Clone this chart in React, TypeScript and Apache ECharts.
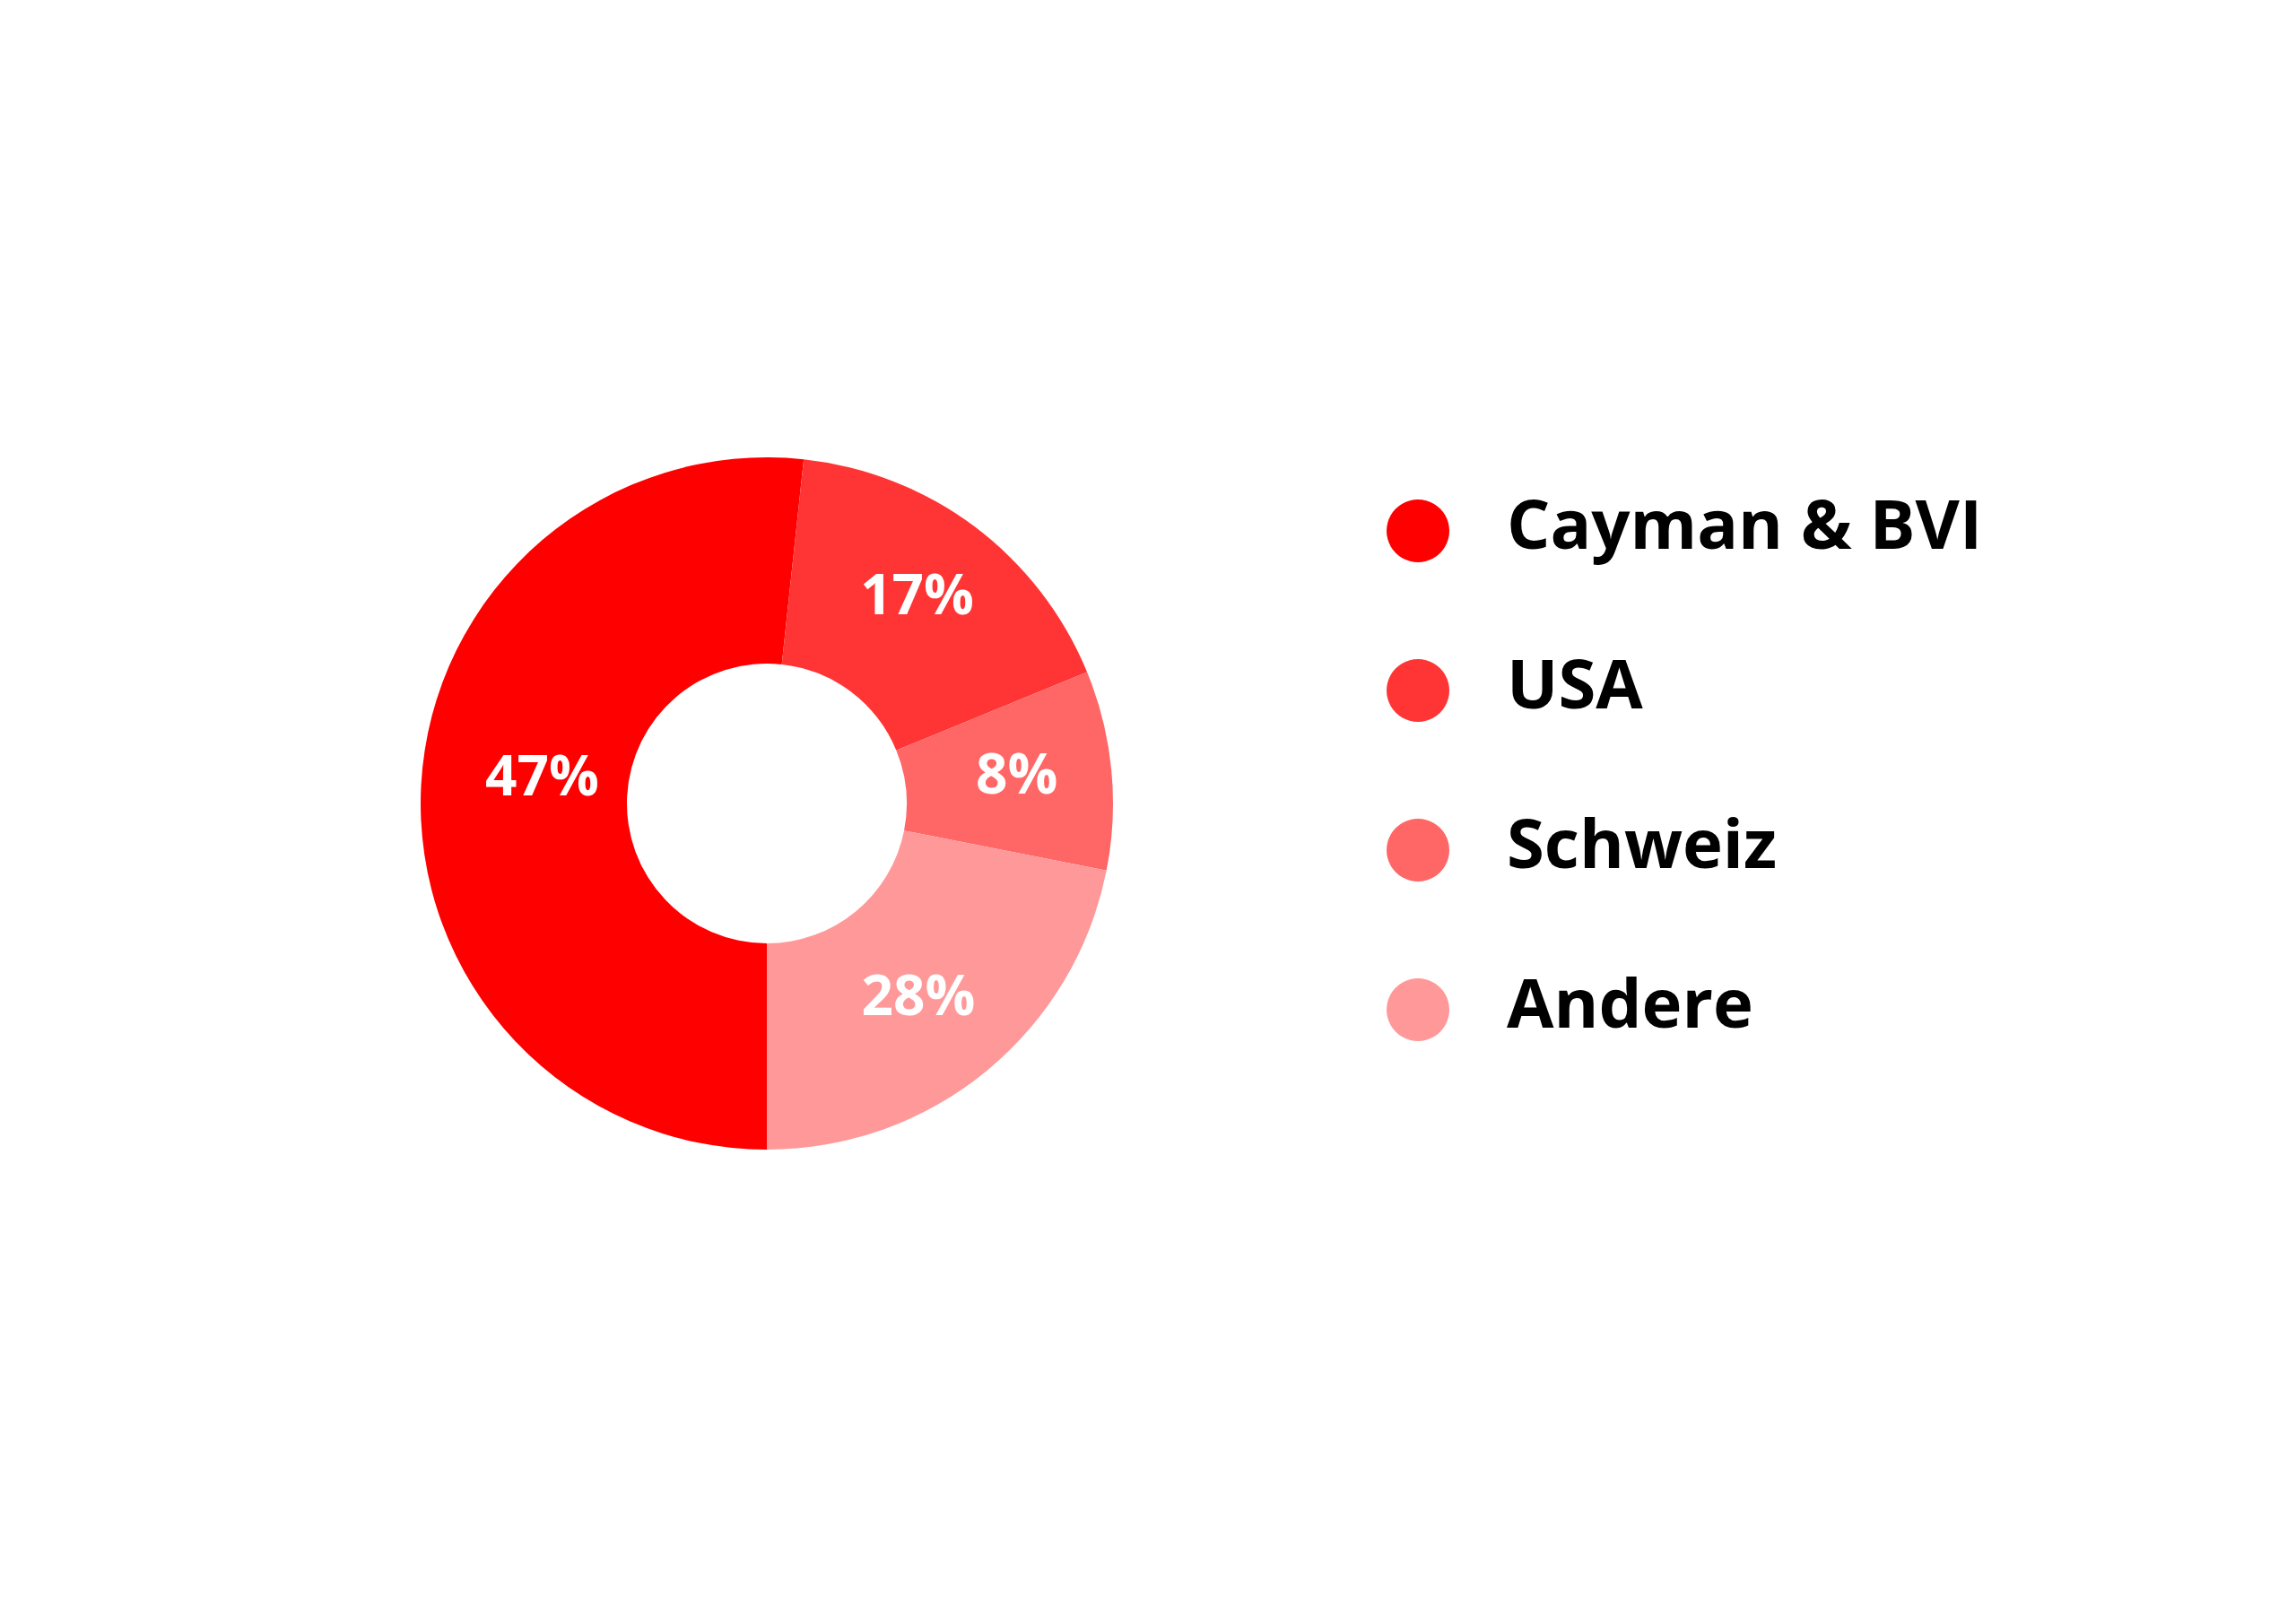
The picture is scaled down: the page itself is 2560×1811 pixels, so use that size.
import React, { useEffect, useRef } from "react";
import * as echarts from "echarts";

// Regions shown in the chart (legend order)
const regions: string[] = ["Cayman & BVI", "USA", "Schweiz", "Andere"];
// Arc sizes as drawn in the picture (shares)
const sliceShares: number[] = [51.7, 17.1, 9.3, 21.9];
// Percentage labels printed on the slices
const sliceLabels: string[] = ["47%", "17%", "8%", "28%"];
const sliceColors: string[] = ["#FF0000", "#FF3535", "#FF6666", "#FF9999"];

export default function App() {
  const ref = useRef<HTMLDivElement>(null);

  useEffect(() => {
    if (!ref.current) return;
    const chart = echarts.init(ref.current, undefined, { renderer: "svg" });
    const font = "'Open Sans', 'Noto Sans', sans-serif";
    // small per-slice nudges of the label text
    const labelNudges: number[][] = [
      [23, -18],
      [3, -16],
      [6, -8],
      [-5, 0],
    ];
    chart.setOption({
      animation: false,
      backgroundColor: "#ffffff",
      color: sliceColors,
      legend: {
        orient: "vertical",
        left: 1541,
        top: 539,
        icon: "circle",
        itemWidth: 70,
        itemHeight: 70,
        itemGap: 95,
        selectedMode: false,
        data: regions,
        formatter: "{t|{name}}",
        textStyle: {
          fontFamily: font,
          fontWeight: "bold",
          fontSize: 76,
          color: "#000000",
          rich: {
            t: {
              fontFamily: font,
              fontWeight: "bold",
              fontSize: 76,
              color: "#000000",
              padding: [0, 0, 20, 59],
            },
          },
        },
      },
      series: [
        {
          type: "pie",
          center: [855, 896],
          radius: [156, 386],
          startAngle: 270,
          clockwise: true,
          avoidLabelOverlap: false,
          itemStyle: { borderWidth: 0 },
          emphasis: { disabled: true },
          label: {
            show: true,
            position: "inside",
            color: "#ffffff",
            fontFamily: font,
            fontWeight: "bold",
            fontSize: 62,
            formatter: (p: any) => sliceLabels[p.dataIndex],
          },
          labelLine: { show: false },
          data: regions.map((name, i) => ({
            name,
            value: sliceShares[i],
            label: { offset: labelNudges[i] },
          })),
        },
      ],
    });
    return () => chart.dispose();
  }, []);

  return (
    <div
      ref={ref}
      style={{ position: "fixed", left: 0, top: 0, width: 2560, height: 1811, background: "#fff" }}
    />
  );
}
